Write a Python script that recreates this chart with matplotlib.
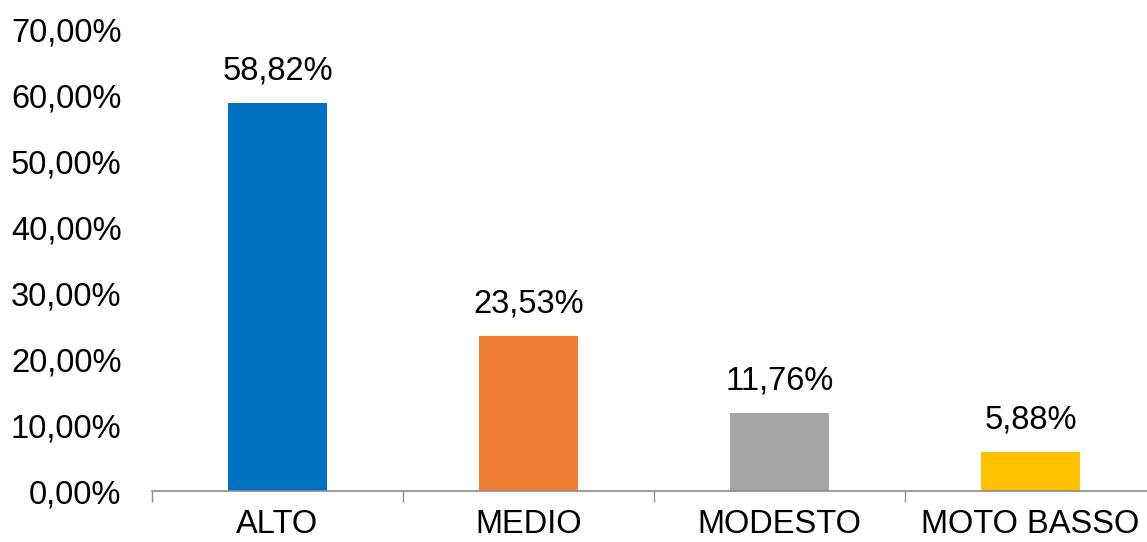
import matplotlib
matplotlib.use("Agg")
import matplotlib.pyplot as plt
import matplotlib.ticker as mticker

# ── Datos ─────────────────────────────────────────────────────────────────────
categorias = ["ALTO", "MEDIO", "MODESTO", "MOTO BASSO"]
valores = [58.82, 23.53, 11.76, 5.88]
colores = ["#0070C0", "#ED7D31", "#A5A5A5", "#FFC000"]

plt.rcParams["font.family"] = ["Liberation Sans", "DejaVu Sans"]
plt.rcParams["text.color"] = "#000000"
plt.rcParams["xtick.labelcolor"] = "#000000"
plt.rcParams["ytick.labelcolor"] = "#000000"

fig = plt.figure(figsize=(11.47, 5.42), dpi=100)
ax = fig.add_axes([152 / 1147, 51 / 542, 1004 / 1147, 462 / 542])

x = list(range(len(categorias)))
bars = ax.bar(x, valores, width=0.395, color=colores)

ax.set_xlim(-0.5, len(categorias) - 0.5)
ax.set_ylim(0, 70)
ax.yaxis.set_major_locator(mticker.MultipleLocator(10))
ax.yaxis.set_major_formatter(
    mticker.FuncFormatter(lambda v, _: f"{v:.2f}%".replace(".", ","))
)

ax.set_xticks(x)
ax.set_xticklabels(categorias)
ax.set_xticks([i - 0.5 for i in range(len(categorias) + 1)], minor=True)
ax.tick_params(axis="x", which="major", length=0, pad=13, labelsize=23.5)
ax.tick_params(axis="x", which="minor", length=8, color="#8C8C8C", width=1)
ax.tick_params(axis="y", length=0, pad=22, labelsize=23.5)

for lado in ("top", "right", "left"):
    ax.spines[lado].set_visible(False)
ax.spines["bottom"].set_color("#8C8C8C")
ax.spines["bottom"].set_linewidth(1.2)
ax.spines["bottom"].set_clip_on(False)

for bar, valor in zip(bars, valores):
    ax.annotate(
        f"{valor:.2f}%".replace(".", ","),
        (bar.get_x() + bar.get_width() / 2, bar.get_height()),
        xytext=(0, 12), textcoords="offset points",
        ha="center", va="bottom", fontsize=23.5, color="#000000",
    )

fig.savefig("out.png", dpi=100)
plt.close(fig)
